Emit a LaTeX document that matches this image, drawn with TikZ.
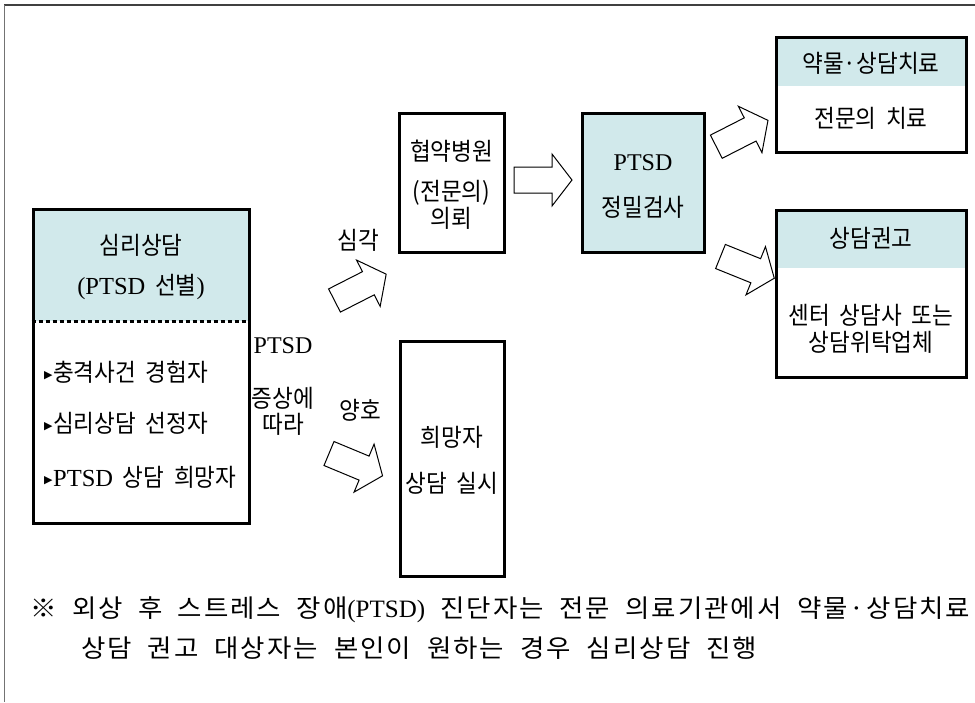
\documentclass[tikz,border=0pt]{standalone}
\usepackage{fontspec}
\newfontfamily\kr{Noto Sans CJK KR}[FakeStretch=0.92]
\newfontfamily\krw{Noto Sans CJK KR}[FakeStretch=1.06]
\newfontfamily\krl{Noto Sans CJK KR}[FakeStretch=1.06, LetterSpace=8]
\newfontfamily\lat{Liberation Serif}
\newfontfamily\sym{DejaVu Sans}
\definecolor{hdr}{RGB}{209,233,235}
\newcommand\ptsd{{\lat PTSD}}
\newcommand\bul{\raisebox{2.5pt}{\sym\fontsize{11}{11}\selectfont ▶}\hspace{0.5pt}}
\newcommand\boxfont{\kr\fontsize{24.5}{28}\selectfont\spaceskip 0.4em\relax}
\begin{document}
\begin{tikzpicture}[x=1pt,y=-1pt,
  box/.style={draw=black, line width=3pt, inner sep=0pt, rectangle},
  txt/.style={inner sep=0pt, font=\boxfont},
  ltxt/.style={inner sep=0pt, font=\lat\fontsize{24}{28}\selectfont},
  foot/.style={inner sep=0pt, anchor=west, font=\krl\fontsize{25}{30}\selectfont},
  barrow/.style={draw=black, line width=1pt, fill=white, line join=miter},
  dotsep/.style={line width=3pt, dash pattern=on 4pt off 3pt},
  blockarrow/.pic={\draw[barrow] (0,-13) -- (38,-13) -- (38,-26) -- (58,0) -- (38,26) -- (38,13) -- (0,13) -- cycle;}
]
\useasboundingbox (0,0) rectangle (975,702);
% frame
\coordinate (fTL) at (4,5);
\coordinate (fTR) at (975,5);
\coordinate (fBL) at (4,702);
\draw[line width=2pt, draw=black!75] (fTL) -- (fTR);
\draw[line width=1pt, draw=black!55] (fTL) -- (fBL);

% header fills
\fill[hdr] (33,209) rectangle (249,321);
\fill[hdr] (582,113) rectangle (704,252);
\fill[hdr] (776,37) rectangle (966,86);
\fill[hdr] (776,210) rectangle (966,268);

% boxes
\node[box, minimum width=216pt, minimum height=314pt] (b1) at (141,366) {};
\node[box, minimum width=105pt, minimum height=139pt] (b2) at (451.5,182.5) {};
\node[box, minimum width=122pt, minimum height=139pt] (b3) at (643,182.5) {};
\node[box, minimum width=190pt, minimum height=115pt] (b4) at (871,94.5) {};
\node[box, minimum width=190pt, minimum height=167pt] (b5) at (871,293.5) {};
\node[box, minimum width=104pt, minimum height=235pt] (b6) at (452,458.5) {};

\coordinate (sep1) at (141,321);
\draw[dotsep] (b1.west |- sep1) -- (b1.east |- sep1);

% left box texts
\node[txt] (t1a) at (141,245) {심리상담};
\node[txt] (t1b) at (141,287) {{\lat(PTSD} 선별{\lat)}};
\node[txt, anchor=west] (t1c) at (44,372) {\bul 충격사건 경험자};
\node[txt, anchor=west] (t1d) at (44,423) {\bul 심리상담 선정자};
\node[txt, anchor=west] (t1e) at (44,477) {\bul\ptsd{} 상담 희망자};

% side labels
\node[ltxt] (l1) at (283,346) {PTSD};
\node[txt] (l2) at (283,398) {증상에};
\node[txt] (l3) at (283,424) {따라};
\node[txt] (l4) at (358,240) {심각};
\node[txt] (l5) at (360,410) {양호};

% box texts
\node[txt] (t2a) at (451.5,151) {협약병원};
\node[txt] (t2b) at (451.5,193) {(전문의)};
\node[txt] (t2c) at (451.5,218) {의뢰};
\node[ltxt] (t3a) at (643,163) {PTSD};
\node[txt] (t3b) at (643,207) {정밀검사};
\node[txt] (t4a) at (871,63) {약물·상담치료};
\node[txt] (t4b) at (871,118) {전문의 치료};
\node[txt] (t5a) at (871,238) {상담권고};
\node[txt] (t5b) at (871,315) {센터 상담사 또는};
\node[txt] (t5c) at (871,342) {상담위탁업체};
\node[txt] (t6a) at (452,437) {희망자};
\node[txt] (t6b) at (452,483) {상담 실시};

% block arrows
\pic[rotate=27] (a1) at (334.5,300.5) {blockarrow};
\pic[rotate=-22.6] (a2) at (329,453.5) {blockarrow};
\pic (a3) at (514,180) {blockarrow};
\pic[rotate=27] (a4) at (716.3,146.7) {blockarrow};
\pic[rotate=-22] (a5) at (720.5,256.5) {blockarrow};

% footer
\node[foot] (f1) at (30,610) {\makebox[940pt][s]{※ 외상 후 스트레스 장애{\lat(PTSD)} 진단자는 전문 의료기관에서 약물·상담치료}};
\node[foot] (f2) at (81,648) {\makebox[676pt][s]{상담 권고 대상자는 본인이 원하는 경우 심리상담 진행}};
\end{tikzpicture}
\end{document}
